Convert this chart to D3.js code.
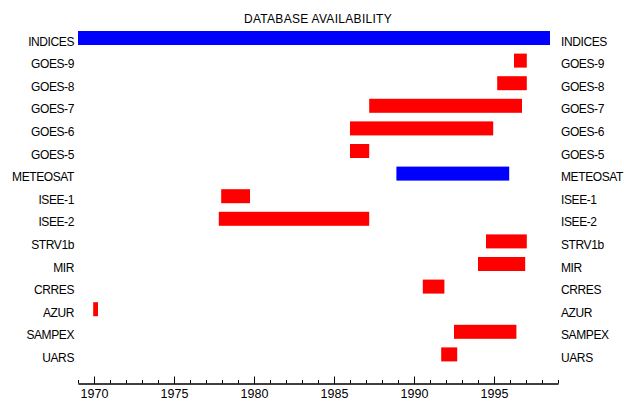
<!DOCTYPE html>
<html>
<head>
<meta charset="utf-8">
<script src="https://cdn.jsdelivr.net/npm/d3@7"></script>
<style>
  body { margin: 0; background: #fff; }
  text { font-family: "Liberation Sans", Arial, sans-serif; font-size: 12px; fill: #000; }
</style>
</head>
<body>
<div id="chart"></div>
<script>
// rows, top to bottom
var names  = ["INDICES","GOES-9","GOES-8","GOES-7","GOES-6","GOES-5","METEOSAT",
              "ISEE-1","ISEE-2","STRV1b","MIR","CRRES","AZUR","SAMPEX","UARS"];
// start / end of data coverage (decimal years)
var starts = [1969.0, 1996.25, 1995.2, 1987.2, 1986.0, 1986.0, 1988.9,
              1977.95, 1977.8, 1994.5, 1994.0, 1990.55, 1969.95, 1992.5, 1991.7];
var ends   = [1998.5, 1997.05, 1997.05, 1996.75, 1994.95, 1987.2, 1995.95,
              1979.75, 1987.2, 1997.05, 1996.95, 1991.9, 1970.25, 1996.4, 1992.7];
// rows drawn in blue, everything else red
var blueRows = ["INDICES", "METEOSAT"];

var majorTicks = [1970, 1975, 1980, 1985, 1990, 1995];
var minorTicks = d3.range(1969, 2000);

var width = 624, height = 402;

var svg = d3.select("#chart").append("svg")
    .attr("width", width)
    .attr("height", height);

var x = d3.scaleLinear().domain([1969, 1999]).range([78, 558]);
var y = d3.scalePoint().domain(names).range([38, 354.4]);
var barH = 14;

// title
svg.append("text")
    .attr("x", 318).attr("y", 22.5)
    .attr("text-anchor", "middle")
    .style("letter-spacing", "0.3px")
    .text("DATABASE AVAILABILITY");

// bars
svg.selectAll("rect.bar").data(names).enter().append("rect")
    .attr("class", "bar")
    .attr("x", function(d, i) { return x(starts[i]); })
    .attr("width", function(d, i) { return x(ends[i]) - x(starts[i]); })
    .attr("y", function(d) { return y(d) - barH / 2; })
    .attr("height", barH)
    .attr("fill", function(d) { return blueRows.indexOf(d) >= 0 ? "#0000ff" : "#ff0000"; });

// labels both sides
svg.selectAll("text.left").data(names).enter().append("text")
    .attr("class", "left")
    .attr("x", 74).attr("y", function(d) { return y(d) + 7.5; })
    .attr("text-anchor", "end")
    .style("letter-spacing", "-0.4px")
    .text(function(d) { return d; });

svg.selectAll("text.right").data(names).enter().append("text")
    .attr("class", "right")
    .attr("x", 561).attr("y", function(d) { return y(d) + 7.5; })
    .style("letter-spacing", "-0.4px")
    .text(function(d) { return d; });

// x axis: ticks point up into the plot
var axisY = 383.5;
var minorAxis = d3.axisBottom(x).tickValues(minorTicks).tickSize(-3.5).tickSizeOuter(0).tickFormat("");
var majorAxis = d3.axisBottom(x).tickValues(majorTicks).tickSize(-7).tickSizeOuter(0)
    .tickPadding(6).tickFormat(d3.format("d"));

svg.append("g").attr("transform", "translate(0," + axisY + ")").call(minorAxis);
var gMaj = svg.append("g").attr("transform", "translate(0," + axisY + ")").call(majorAxis);

svg.selectAll(".domain, .tick line").attr("stroke", "#000");
gMaj.selectAll("text").style("font-size", "12.5px").style("font-family", "'Liberation Sans', Arial, sans-serif");
</script>
</body>
</html>
